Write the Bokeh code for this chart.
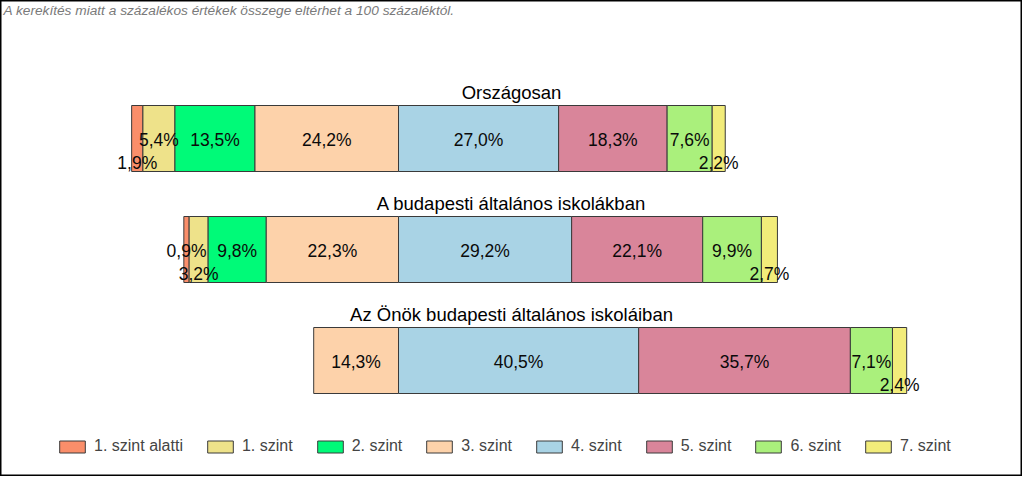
from bokeh.plotting import figure
from bokeh.models import Range1d, ColumnDataSource
from bokeh.core.properties import value
from bokeh.embed import file_html
from bokeh.resources import INLINE

# ---------------- data ----------------
rows = ["Országosan",
        "A budapesti általános iskolákban",
        "Az Önök budapesti általános iskoláiban"]
levels = ["1. szint alatti", "1. szint", "2. szint", "3. szint",
          "4. szint", "5. szint", "6. szint", "7. szint"]
colors = ["#FA8E6A", "#EEE28A", "#00FA78", "#FDD2AA",
          "#A9D3E5", "#D9859A", "#AAF07C", "#F2EC7A"]
orszagosan = [1.9, 5.4, 13.5, 24.2, 27.0, 18.3, 7.6, 2.2]
budapest = [0.9, 3.2, 9.8, 22.3, 29.2, 22.1, 9.9, 2.7]
onok = [0.0, 0.0, 0.0, 14.3, 40.5, 35.7, 7.1, 2.4]
note = "A kerekítés miatt a  százalékos értékek összege eltérhet a 100 százaléktól."

series = [orszagosan, budapest, onok]
n_left = 4  # levels below the divide (1. szint alatti .. 3. szint)

# ---------------- layout ----------------
W, H = 1022, 476
PX = 5.93        # pixels per percent
CX = 398         # pixel position of the divide
ROW0, STEP, BAR_H = 138, 111, 66
FONT = "Liberation Sans"
LBL_PX = 17.5

p = figure(width=W, height=H, output_backend="svg", toolbar_location=None,
           x_range=Range1d(-CX / PX, (W - CX) / PX), y_range=Range1d(H, 0),
           min_border=0, x_axis_location=None, y_axis_location=None)
p.grid.visible = False
p.outline_line_color = "black"
p.outline_line_width = 2
p.background_fill_color = "white"
p.border_fill_color = "white"

row_y = [ROW0 + i * STEP for i in range(len(rows))]

# segment extents
extents = []  # extents[r][j] = (left, right)
for vals in series:
    ext = [None] * len(vals)
    acc = 0.0
    for j in range(n_left - 1, -1, -1):
        ext[j] = (-(acc + vals[j]), -acc)
        acc += vals[j]
    acc = 0.0
    for j in range(n_left, len(vals)):
        ext[j] = (acc, acc + vals[j])
        acc += vals[j]
    extents.append(ext)

for j, lev in enumerate(levels):
    ys, ls, rs = [], [], []
    for r, vals in enumerate(series):
        if vals[j] > 0:
            ys.append(row_y[r])
            ls.append(extents[r][j][0])
            rs.append(extents[r][j][1])
    src = ColumnDataSource(dict(y=ys, left=ls, right=rs))
    p.hbar(y="y", left="left", right="right", height=BAR_H, source=src,
           fill_color=colors[j], line_color="#3a3a3a", line_width=1,
           legend_label=lev)

# value labels, lowered when they would collide with the previous label
def fmt(v):
    return ("%.1f" % v).replace(".", ",") + "%"

def label_width(t):
    w = 0.0
    for ch in t:
        w += 0.889 if ch == "%" else (0.278 if ch == "," else 0.556)
    return w * 17.5 / PX

lx, ly, lt = [], [], []
for r, vals in enumerate(series):
    for order in (list(range(n_left - 1, -1, -1)), list(range(n_left, len(vals)))):
        prev = None
        for j in order:
            if vals[j] <= 0:
                continue
            t = fmt(vals[j])
            c = (extents[r][j][0] + extents[r][j][1]) / 2
            w = label_width(t)
            a, b = c - w / 2, c + w / 2
            gap = 2 / PX
            low = prev is not None and (a < prev[1] + gap and b > prev[0] - gap)
            if not low:
                prev = (a, b)
            lx.append(c)
            ly.append(row_y[r] + (24 if low else 1))
            lt.append(t)

p.text(x=lx, y=ly, text=lt, text_align="center", text_baseline="middle",
       text_font=value(FONT), text_font_size="%spx" % LBL_PX, text_color="#0a0a0a")

# row titles
p.text(x=[(511 - CX) / PX] * len(rows), y=[y - BAR_H / 2 - 13 for y in row_y], text=rows,
       text_align="center", text_baseline="alphabetic",
       text_font=value(FONT), text_font_size="18.5px", text_color="black")

# note
p.text(x=[-CX / PX + 3 / PX], y=[2], text=[note], text_align="left", text_baseline="top",
       text_font=value(FONT), text_font_size="13.7px", text_font_style="italic",
       text_color="#7a7a7a")

lg = p.legend[0]
lg.orientation = "horizontal"
lg.location = (56, 21)
lg.padding = 0
lg.margin = 0
lg.spacing = 21
lg.glyph_width = 32
lg.glyph_height = 15
lg.label_standoff = 6
lg.label_text_font = FONT
lg.label_text_font_size = "16px"
lg.border_line_alpha = 0
lg.background_fill_alpha = 0

open("out.html", "w").write(file_html(p, INLINE))
